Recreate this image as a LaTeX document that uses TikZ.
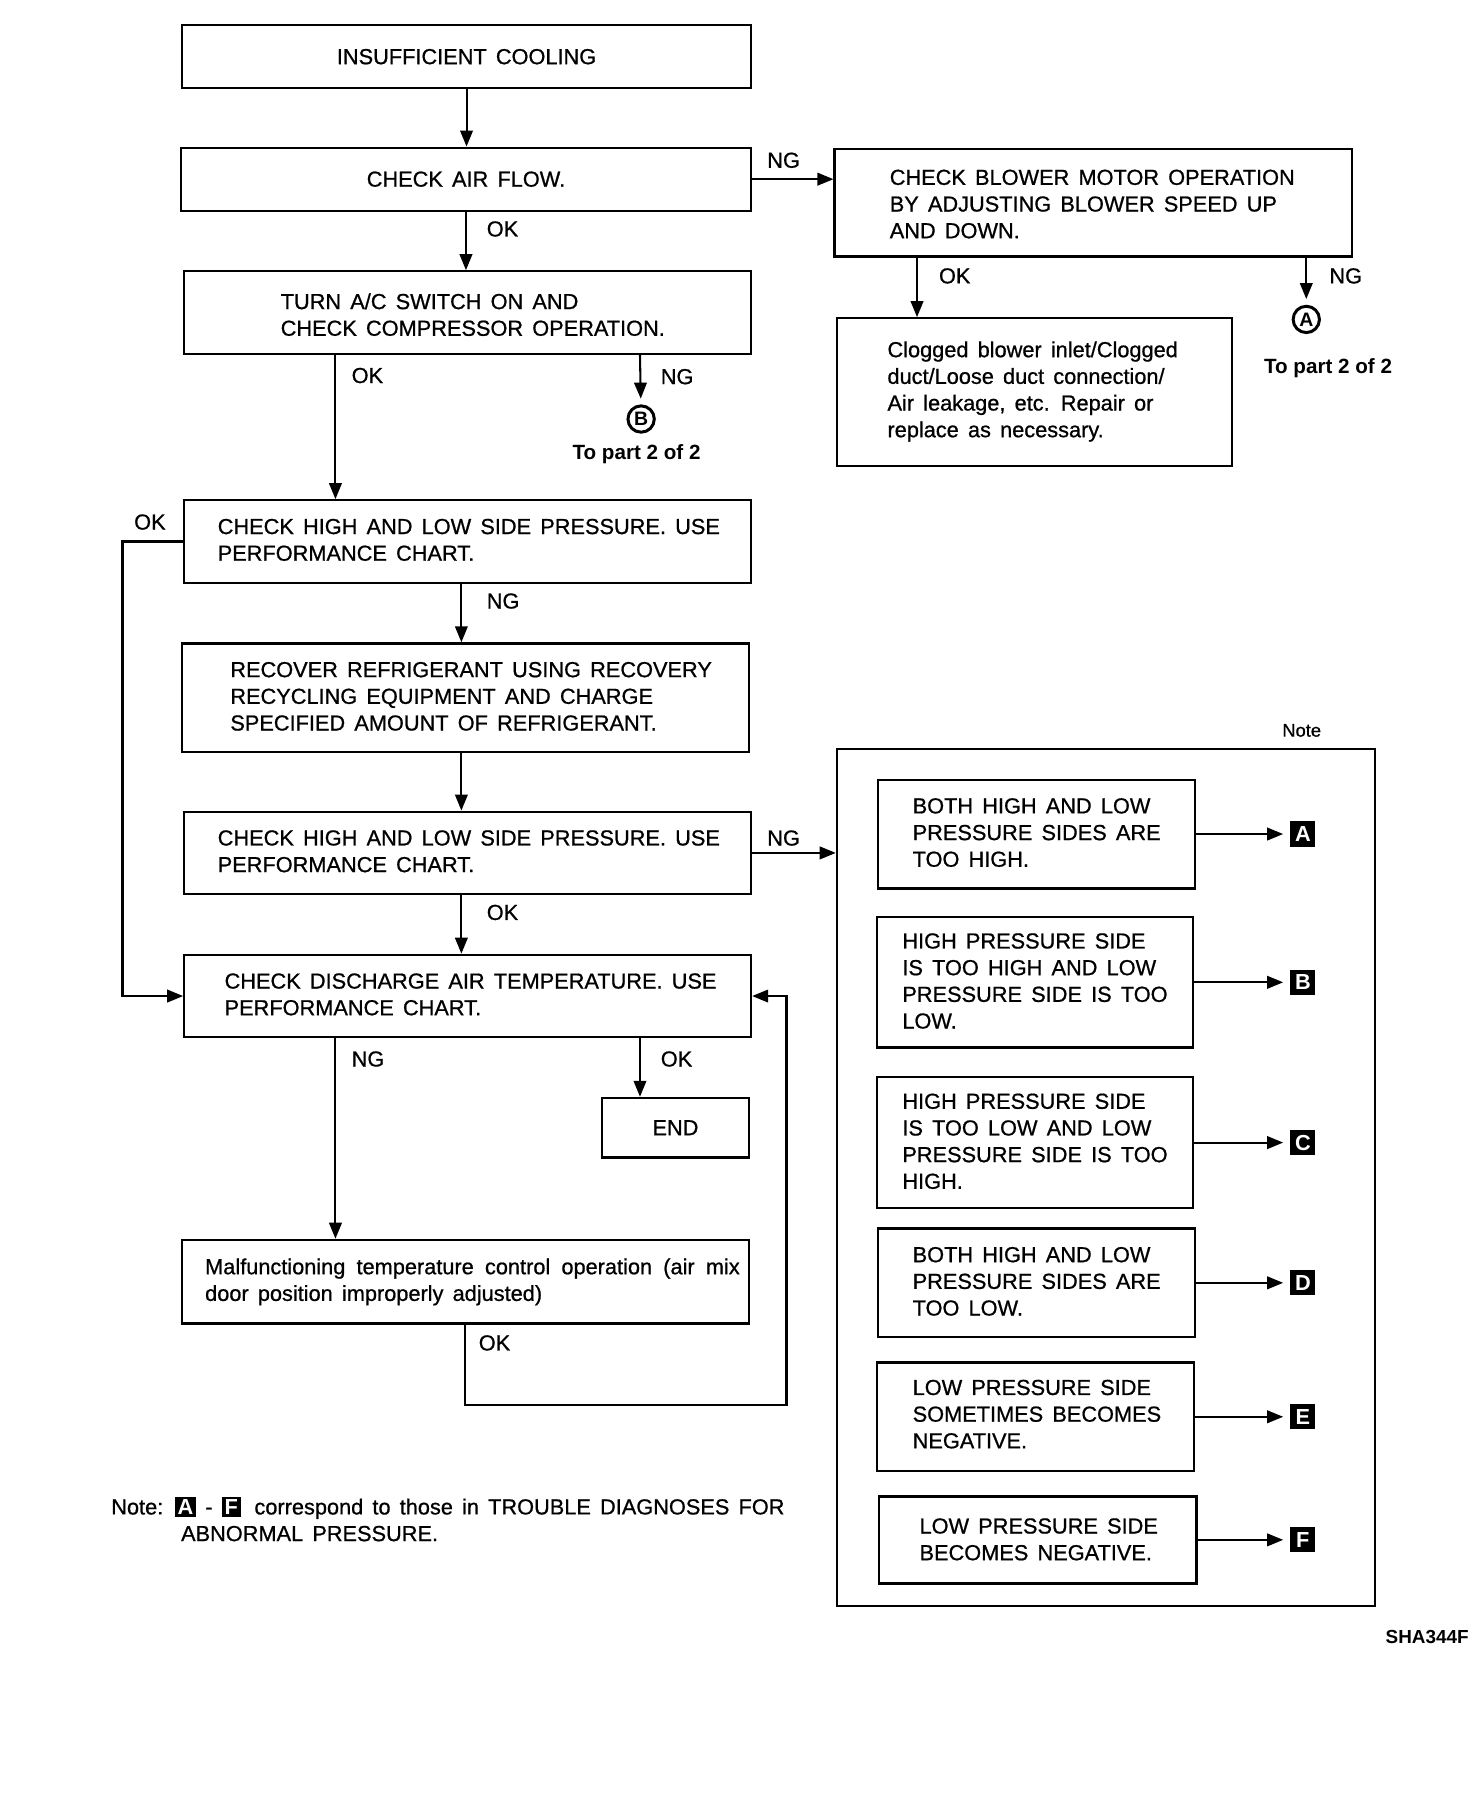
\documentclass[tikz,border=0pt]{standalone}
\usepackage{fontspec}
\setmainfont{Liberation Sans}
\newfontface\heavyface{Liberation Sans}[FakeBold=0.8]
\usetikzlibrary{arrows.meta}

\newcommand{\flowfont}{\heavyface\fontsize{19}{23.3}\selectfont\spaceskip=8pt plus 3pt\relax}
\newcommand{\partfont}{\fontsize{18}{22}\selectfont\bfseries}
\newcommand{\lettag}[1]{{\setlength{\fboxsep}{2.5pt}\colorbox{black}{\textcolor{white}{\normalfont\bfseries #1}}}}

\tikzset{
  box/.style={draw, line width=2pt, anchor=north west, inner sep=0pt, font=\flowfont},
  txt/.style={anchor=north west, align=left, inner sep=0pt, font=\flowfont},
  lbl/.style={anchor=west, inner sep=0pt, font=\flowfont},
  flow/.style={line width=1.8pt, -{Triangle[length=14pt,width=11pt]}},
  tag/.style={fill=black, text=white, font=\fontsize{19}{22}\selectfont\bfseries, minimum width=22pt, minimum height=22pt, inner sep=0pt},
  ring/.style={circle, draw, line width=2.6pt, font=\fontsize{17}{20}\selectfont\bfseries, inner sep=0pt, minimum size=23pt}
}

\begin{document}
\begin{tikzpicture}[x=1pt,y=1pt,yscale=-1,xscale=1]
\useasboundingbox (0,0) rectangle (1286,1567);
%columns used by the connectors
\coordinate (lx) at (293,0);
\coordinate (mx) at (403,0);
\coordinate (rx) at (559,0);
\coordinate (bx1) at (801,0);
\coordinate (bx2) at (1141,0);
\coordinate (loopx) at (687,0);
\coordinate (tagx) at (1138,0);

%Shape: main column
\node[box, minimum width=497pt, minimum height=55pt] (cool) at (158,21) {INSUFFICIENT COOLING};
\node[box, minimum width=498pt, minimum height=55pt] (airflow) at (157,128) {CHECK AIR FLOW.};
\node[box, minimum width=495pt, minimum height=72pt] (turn) at (160,236) {};
\node[txt] (turnt) at (245,256) {TURN A/C SWITCH ON AND\\CHECK COMPRESSOR OPERATION.};
\node[box, minimum width=495pt, minimum height=72pt] (hlp1) at (160,436) {};
\node[txt] (hlp1t) at (190,453) {CHECK HIGH AND LOW SIDE PRESSURE. USE\\PERFORMANCE CHART.};
\node[box, minimum width=495pt, minimum height=95pt] (recover) at (158,561) {};
\node[txt] (recovert) at (201,578) {RECOVER REFRIGERANT USING RECOVERY\\RECYCLING EQUIPMENT AND CHARGE\\SPECIFIED AMOUNT OF REFRIGERANT.};
\node[box, minimum width=495pt, minimum height=72pt] (hlp2) at (160,708) {};
\node[txt] (hlp2t) at (190,725) {CHECK HIGH AND LOW SIDE PRESSURE. USE\\PERFORMANCE CHART.};
\node[box, minimum width=495pt, minimum height=72pt] (discharge) at (160,833) {};
\node[txt] (discharget) at (196,850) {CHECK DISCHARGE AIR TEMPERATURE. USE\\PERFORMANCE CHART.};
\node[box, minimum width=128pt, minimum height=52pt] (endbox) at (525,958) {END};
\node[box, minimum width=495pt, minimum height=73pt] (malf) at (158,1082) {};
\node[txt] (malft) at (179,1099) {\makebox[467pt][s]{Malfunctioning temperature control operation (air mix}\\door position improperly adjusted)};

%Shape: blower branch
\node[box, minimum width=452pt, minimum height=94pt] (blower) at (728,129) {};
\node[txt] (blowert) at (777,148) {CHECK BLOWER MOTOR OPERATION\\BY ADJUSTING BLOWER SPEED UP\\AND DOWN.};
\node[box, minimum width=345pt, minimum height=129pt] (clog) at (730,277) {};
\node[txt] (clogt) at (775,298) {Clogged blower inlet/Clogged\\duct/Loose duct connection/\\Air leakage, etc. Repair or\\replace as necessary.};
\node[ring] (ringA) at (1141,279) {A};
\node[font=\partfont] (partA) at (1160,322) {To part 2 of 2};
\node[ring] (ringB) at (560,366) {B};
\node[font=\partfont] (partB) at (556,397) {To part 2 of 2};

%Shape: note frame
\node[box, minimum width=470pt, minimum height=749pt] (notebox) at (730,653) {};
\node[font=\heavyface\fontsize{16}{19}\selectfont] (notelbl) at (1137,638) {Note};
\node[box, minimum width=277pt, minimum height=95pt] (ca) at (766,680) {};
\node[txt] (cat) at (797,697) {BOTH HIGH AND LOW\\PRESSURE SIDES ARE\\TOO HIGH.};
\node[box, minimum width=276pt, minimum height=114pt] (cb) at (765,800) {};
\node[txt] (cbt) at (788,815) {HIGH PRESSURE SIDE\\IS TOO HIGH AND LOW\\PRESSURE SIDE IS TOO\\LOW.};
\node[box, minimum width=276pt, minimum height=114pt] (cc) at (765,940) {};
\node[txt] (cct) at (788,955) {HIGH PRESSURE SIDE\\IS TOO LOW AND LOW\\PRESSURE SIDE IS TOO\\HIGH.};
\node[box, minimum width=277pt, minimum height=95pt] (cd) at (766,1072) {};
\node[txt] (cdt) at (797,1089) {BOTH HIGH AND LOW\\PRESSURE SIDES ARE\\TOO LOW.};
\node[box, minimum width=277pt, minimum height=95pt] (ce) at (765,1189) {};
\node[txt] (cet) at (797,1205) {LOW PRESSURE SIDE\\SOMETIMES BECOMES\\NEGATIVE.};
\node[box, minimum width=277pt, minimum height=76pt] (cf) at (767,1306) {};
\node[txt] (cft) at (803,1326) {LOW PRESSURE SIDE\\BECOMES NEGATIVE.};
\node[tag] (ta) at (ca.east -| tagx) {A};
\node[tag] (tb) at (cb.east -| tagx) {B};
\node[tag] (tc) at (cc.east -| tagx) {C};
\node[tag] (td) at (cd.east -| tagx) {D};
\node[tag] (te) at (ce.east -| tagx) {E};
\node[tag] (tf) at (cf.east -| tagx) {F};

%Connectors
\draw[flow] (cool.south) -- (cool.south |- airflow.north);
\draw[flow] (airflow.south) -- (airflow.south |- turn.north);
\draw[flow] (airflow.east) -- (airflow.east -| blower.west);
\draw[flow] (blower.south -| bx1) -- (bx1 |- clog.north);
\draw[flow, shorten >=5pt] (blower.south -| bx2) -- (ringA);
\draw[flow] (turn.south -| lx) -- (lx |- hlp1.north);
\draw[flow, shorten >=5pt] (turn.south -| rx) -- (ringB);
\draw[flow] (hlp1.west) -- ++(-53,0) |- (discharge.west);
\draw[flow] (hlp1.south -| mx) -- (mx |- recover.north);
\draw[flow] (recover.south -| mx) -- (mx |- hlp2.north);
\draw[flow] (hlp2.east) -- (hlp2.east -| notebox.west);
\draw[flow] (hlp2.south -| mx) -- (mx |- discharge.north);
\draw[flow] (discharge.south -| lx) -- (lx |- malf.north);
\draw[flow] (discharge.south -| rx) -- (rx |- endbox.north);
\draw[flow] (malf.south) -- ++(0,70) -| (loopx |- discharge.east) -- (discharge.east);
\foreach \c/\t in {ca/ta,cb/tb,cc/tc,cd/td,ce/te,cf/tf}
  \draw[flow, shorten >=6pt] (\c.east) -- (\t.west);

%Labels
\node[lbl] (ok1) at (425,200) {OK};
\node[lbl] (ng1) at (670,140) {NG};
\node[lbl] (ok2) at (820,241) {OK};
\node[lbl] (ng2) at (1161,241) {NG};
\node[lbl] (ok3) at (307,328) {OK};
\node[lbl] (ng3) at (577,329) {NG};
\node[lbl] (ok4) at (117,456) {OK};
\node[lbl] (ng4) at (425,525) {NG};
\node[lbl] (ng5) at (670,732) {NG};
\node[lbl] (ok5) at (425,797) {OK};
\node[lbl] (ng6) at (307,925) {NG};
\node[lbl] (ok6) at (577,925) {OK};
\node[lbl] (ok7) at (418,1173) {OK};

%Footnote
\node[txt] (footnote) at (97,1307) {Note:\hspace{10pt}\lettag{A} - \lettag{F}\hspace{4pt} correspond to those in TROUBLE DIAGNOSES FOR\\\hspace*{61pt}ABNORMAL PRESSURE.};
\node[anchor=east, inner sep=0pt, font=\fontsize{16.5}{19}\selectfont\bfseries] (figid) at (1283,1430) {SHA344F};
\end{tikzpicture}
\end{document}
